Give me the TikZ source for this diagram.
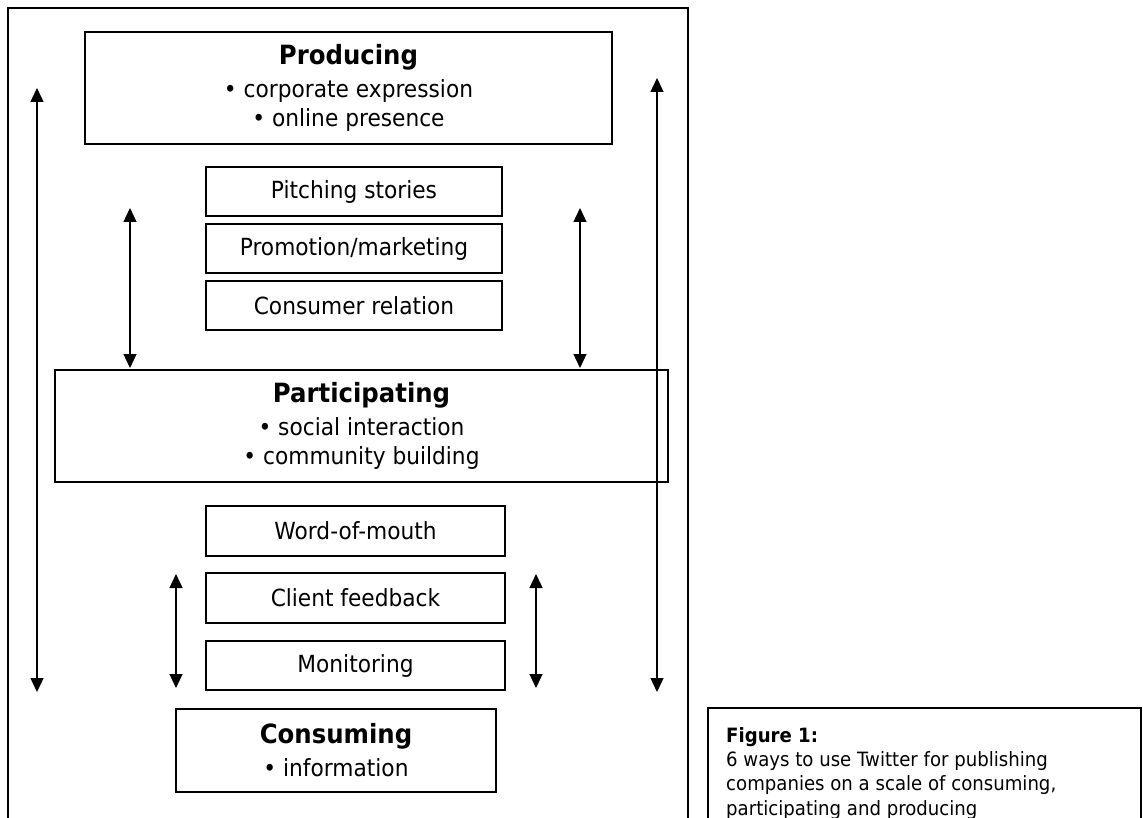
\documentclass[tikz,border=0pt]{standalone}
\usepackage{fontspec}
\setmainfont[FakeStretch=0.92]{DejaVu Sans}
\usetikzlibrary{arrows.meta}
\newcommand{\bodyfont}{\fontsize{23.6}{29}\selectfont}
\newcommand{\ttlfont}{\fontsize{26.5}{31}\selectfont\bfseries}
\begin{document}
\begin{tikzpicture}[x=1pt,y=-1pt,
  box/.style={draw, line width=1.4pt, inner sep=0pt, outer sep=0pt, align=center, font=\bodyfont},
  frm/.style={draw, line width=1.8pt, inner sep=0pt, outer sep=0pt, anchor=north west},
  arr/.style={{Triangle[width=13pt,length=14pt]}-{Triangle[width=13pt,length=14pt]}, line width=1.4pt}]
\useasboundingbox (0,0) rectangle (1143,818);
\fill[white] (0,0) rectangle (1143,818);
\clip (0,0) rectangle (1143,818);
% outer frame and caption frame (open at the bottom)
\node[frm, minimum width=680, minimum height=830] (frame) at (8,8) {};
\node[frm, line width=1.4pt, minimum width=433, minimum height=150] (capbox) at (708,708) {};
\node[anchor=north west, inner sep=0pt, align=left, font=\fontsize{19.7}{24.3}\selectfont] (cap) at (726,727)
  {{\bfseries Figure 1:}\\6 ways to use Twitter for publishing\\companies on a scale of consuming,\\participating and producing};
% boxes
\node[box, minimum width=527, minimum height=112] (prod) at (348.5,88)
  {{\ttlfont Producing}\\[4pt]• corporate expression\\• online presence};
\node[box, minimum width=296, minimum height=49] (pitch) at (354,191.5) {Pitching stories};
\node[box, minimum width=296, minimum height=49] (promo) at (354,248.5) {Promotion/marketing};
\node[box, minimum width=296, minimum height=49] (consrel) at (354,305.5) {Consumer relation};
\node[box, minimum width=613, minimum height=112] (part) at (361.5,426)
  {{\ttlfont Participating}\\[4pt]• social interaction\\• community building};
\node[box, minimum width=299, minimum height=50] (wom) at (355.5,531) {Word-of-mouth};
\node[box, minimum width=299, minimum height=50] (client) at (355.5,598) {Client feedback};
\node[box, minimum width=299, minimum height=49] (monit) at (355.5,665.5) {Monitoring};
\node[box, minimum width=320, minimum height=83] (consm) at (336,750.5)
  {{\ttlfont Consuming}\\[4pt]• information};
% arrows
\coordinate (la1) at (37,88);   \coordinate (la2) at (37,692);
\coordinate (ra1) at (657,78);  \coordinate (ra2) at (657,692);
\coordinate (ula1) at (130,208); \coordinate (ula2) at (130,368);
\coordinate (ura1) at (580,208); \coordinate (ura2) at (580,368);
\coordinate (lla1) at (176,574); \coordinate (lla2) at (176,688);
\coordinate (lra1) at (536,574); \coordinate (lra2) at (536,688);
\draw[arr] (la1) -- (la2);
\draw[arr] (ra1) -- (ra2);
\draw[arr] (ula1) -- (ula2);
\draw[arr] (ura1) -- (ura2);
\draw[arr] (lla1) -- (lla2);
\draw[arr] (lra1) -- (lra2);
\end{tikzpicture}
\end{document}
